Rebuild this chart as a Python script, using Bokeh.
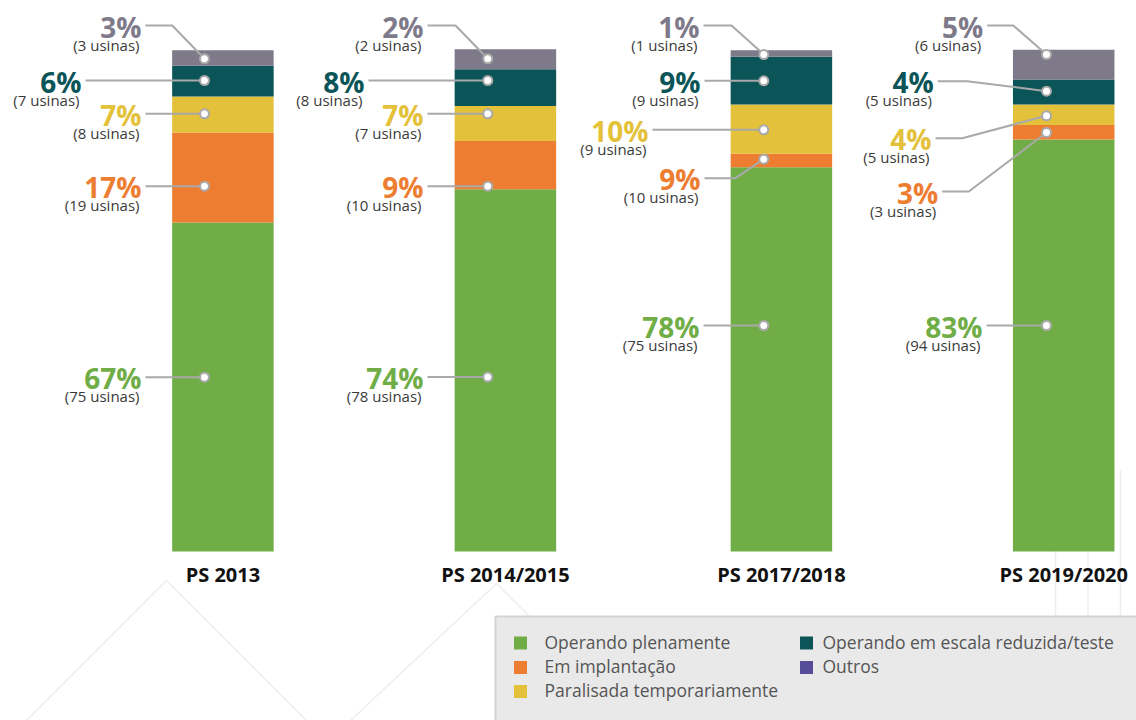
from bokeh.plotting import figure
from bokeh.models import Range1d, ColumnDataSource
from bokeh.core.properties import value
from bokeh.embed import file_html
from bokeh.resources import INLINE

# ---------------- data ----------------
categories = ["PS 2013", "PS 2014/2015", "PS 2017/2018", "PS 2019/2020"]
series_names = ["Operando plenamente", "Em implantação", "Paralisada temporariamente",
                "Operando em escala reduzida/teste", "Outros"]

# segment shares as drawn in the bars (percent of bar height, bottom -> top)
operando = [65.6, 72.2, 76.6, 82.1]
implantacao = [17.9, 9.6, 2.7, 2.9]
paralisada = [7.2, 7.0, 9.8, 4.1]
reduzida = [6.1, 7.3, 9.5, 5.0]
outros = [3.1, 4.0, 1.3, 5.9]

# printed percentages
pct_operando = [67, 74, 78, 83]
pct_implantacao = [17, 9, 9, 3]
pct_paralisada = [7, 7, 10, 4]
pct_reduzida = [6, 8, 9, 4]
pct_outros = [3, 2, 1, 5]

# printed plant counts
usinas_operando = [75, 78, 75, 94]
usinas_implantacao = [19, 10, 10, 3]
usinas_paralisada = [8, 7, 9, 5]
usinas_reduzida = [7, 8, 9, 5]
usinas_outros = [3, 2, 1, 6]

segments = [operando, implantacao, paralisada, reduzida, outros]
pcts = [pct_operando, pct_implantacao, pct_paralisada, pct_reduzida, pct_outros]
usinas = [usinas_operando, usinas_implantacao, usinas_paralisada, usinas_reduzida, usinas_outros]

# ---------------- style / layout ----------------
SEG_COLORS = ["#70AD47", "#ED7D31", "#E4C13A", "#0B5458", "#7E7A8A"]
LEG_COLORS = ["#70AD47", "#ED7D31", "#E4C13A", "#0B5458", "#574C97"]
LINE_COLOR = "#A9A9A9"

W, H = 1136, 720
BASE_PX = 551.0          # page y of bar bottom
PX_PER_UNIT = 5.017      # page px per percent

def py(ypx):
    return (BASE_PX - ypx) / PX_PER_UNIT

BAR_X = [222.4, 504.9, 780.9, 1063.2]
BAR_W = 101.5
DOT_X = [204.0, 487.3, 763.3, 1046.0]

# per bar, per series: (line start x, line y, elbow x or None, dot y)   [page px]
GEOM = [
    [(145, 376.7, None, 376.7), (145, 185.7, None, 185.7), (145, 113.3, None, 113.3),
     (85, 80.0, None, 80.0), (145, 25.0, 171.7, 58.3)],
    [(427, 376.5, None, 376.5), (427, 185.7, None, 185.7), (427, 113.3, None, 113.3),
     (368, 80.0, None, 80.0), (427, 25.0, 455.0, 58.3)],
    [(703, 325.0, None, 325.0), (704, 177.7, 735.0, 158.7), (652, 129.3, None, 129.3),
     (704, 80.3, None, 80.3), (703, 25.0, 731.0, 54.0)],
    [(986, 325.0, None, 325.0), (941.7, 191.0, 968.3, 132.0), (935, 137.7, 961.7, 115.3),
     (937.3, 80.7, 966.7, 90.7), (986.7, 25.0, 1012.7, 54.0)],
]

p = figure(width=W, height=H, x_range=Range1d(0, W),
           y_range=Range1d(py(H), py(0)),
           output_backend="svg", toolbar_location=None, min_border=0)
p.axis.visible = False
p.xgrid.visible = False
p.ygrid.visible = False
p.outline_line_color = None
p.background_fill_color = "white"
p.border_fill_color = "white"

# faint background decoration
p.multi_line(xs=[[0, 166, 306], [350, 496, 533], [1055, 1055], [1087.5, 1087.5], [1120, 1120]],
             ys=[[py(746), py(580), py(720)], [py(720), py(583), py(620)],
                 [py(470), py(616)], [py(470), py(616)], [py(470), py(616)]],
             line_color="#ECEEF3", line_width=1.5)

# stacked bars
bottoms = [0.0] * len(categories)
for s, vals in enumerate(segments):
    tops = [b + v for b, v in zip(bottoms, vals)]
    src = ColumnDataSource(dict(x=BAR_X, bottom=bottoms, top=tops))
    p.vbar(x="x", width=BAR_W, bottom="bottom", top="top", source=src,
           fill_color=SEG_COLORS[s], line_color=None)
    bottoms = tops

# connectors, dots and labels
lx, ly_, dxs, dys = [], [], [], []
pt_x, pt_y, pt_text, pt_color = [], [], [], []
us_x, us_y, us_text = [], [], []
for b in range(len(categories)):
    for s in range(len(segments)):
        sx, ly, ex, dy = GEOM[b][s]
        if ex is None:
            lx.append([sx, DOT_X[b]])
            ly_.append([py(ly), py(dy)])
        else:
            lx.append([sx, ex, DOT_X[b]])
            ly_.append([py(ly), py(ly), py(dy)])
        dxs.append(DOT_X[b])
        dys.append(py(dy))
        pt_x.append(sx - 4)
        pt_y.append(py(ly + 1))
        pt_text.append(f"{pcts[s][b]}%")
        pt_color.append(SEG_COLORS[s])
        us_x.append(sx - 6)
        us_y.append(py(ly + 19))
        us_text.append(f"({usinas[s][b]} usinas)")

p.multi_line(xs=lx, ys=ly_, line_color=LINE_COLOR, line_width=2)
p.scatter(x=dxs, y=dys, size=9, marker="circle", fill_color="white",
          line_color=LINE_COLOR, line_width=2)

p.text(x="x", y="y", text="t", text_color="c",
       source=ColumnDataSource(dict(x=pt_x, y=pt_y, t=pt_text, c=pt_color)),
       text_font=value("Open Sans"), text_font_style="bold", text_font_size="28px",
       text_align="right", text_baseline="alphabetic")
p.text(x=us_x, y=us_y, text=us_text, text_color="#3A3A3A",
       text_font=value("Open Sans"), text_font_size="15px",
       text_align="right", text_baseline="alphabetic")

# category labels
p.text(x=BAR_X, y=[py(574)] * len(categories), text=categories, text_color="#111111",
       text_font=value("Open Sans"), text_font_style="bold", text_font_size="20px",
       text_align="center", text_baseline="alphabetic")

# legend box
p.quad(left=[495], right=[1145], top=[py(616)], bottom=[py(740)],
       fill_color="#E9E9E9", line_color="#D4D4D4", line_width=2)
LEG_POS = [(520, 642.5), (520, 667), (520, 691), (806, 642.5), (806, 667)]
p.scatter(x=[q[0] for q in LEG_POS], y=[py(q[1]) for q in LEG_POS], marker="square",
          size=13, fill_color=LEG_COLORS, line_color=None)
p.text(x=[q[0] + 24 if q[0] < 600 else q[0] + 16 for q in LEG_POS],
       y=[py(q[1] - 1.5) for q in LEG_POS], text=series_names, text_color="#555555",
       text_font=value("Open Sans"), text_font_size="17.5px",
       text_align="left", text_baseline="alphabetic")

open("out.html", "w").write(file_html(p, INLINE))
